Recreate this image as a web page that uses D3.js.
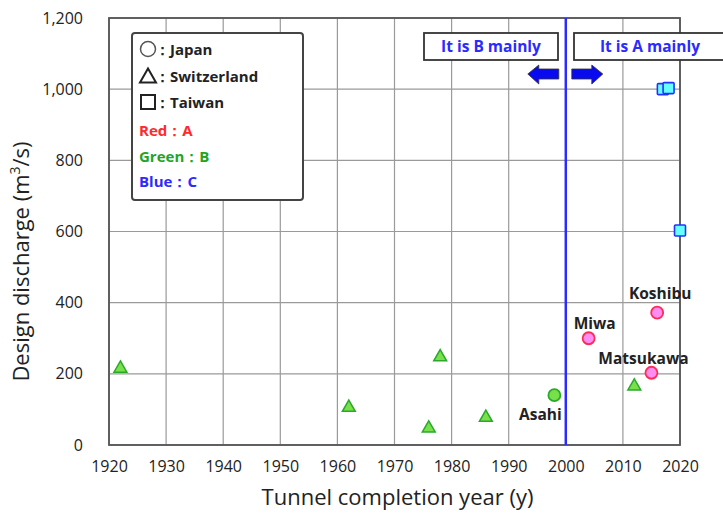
<!DOCTYPE html>
<html>
<head>
<meta charset="utf-8">
<script src="https://cdn.jsdelivr.net/npm/d3@7"></script>
<style>
  html, body { margin: 0; padding: 0; background: #fff; }
  svg { display: block; }
  text { font-family: "Open Sans", "Lato", sans-serif; }
</style>
</head>
<body>
<svg id="chart" width="723" height="517"></svg>
<script>
// Tunnel projects: completion year vs design discharge
const swissYears = [1922, 1962, 1976, 1978, 1986, 2012];
const swissFlows = [218, 108, 50, 250, 80, 168];
const swissGroups = ["B", "B", "B", "B", "B", "B"];

const japanNames = ["Asahi", "Miwa", "Matsukawa", "Koshibu"];
const japanYears = [1998, 2004, 2015, 2016];
const japanFlows = [140, 300, 203, 372];
const japanGroups = ["B", "A", "A", "A"];

const taiwanYears = [2017, 2018, 2020];
const taiwanFlows = [1000, 1003, 603];
const taiwanGroups = ["C", "C", "C"];

const xTicks = [1920, 1930, 1940, 1950, 1960, 1970, 1980, 1990, 2000, 2010, 2020];
const yTicks = [0, 200, 400, 600, 800, 1000, 1200];
const dividerYear = [2000];

const fills = { A: "#ff8cf0", B: "#77e04a", C: "#66ffff" };
const strokes = { A: "#ff2a55", B: "#2aa92a", C: "#2233ff" };

const svg = d3.select("#chart");
const m = { left: 109, right: 43, top: 18, bottom: 72 };
const W = 723, H = 517;

const x = d3.scaleLinear().domain([1920, 2020]).range([m.left, W - m.right]);
const y = d3.scaleLinear().domain([0, 1200]).range([H - m.bottom, m.top]);

// grid
const grid = svg.append("g");
grid.selectAll("line.gx").data(xTicks).join("line")
  .attr("x1", d => x(d)).attr("x2", d => x(d))
  .attr("y1", y(0)).attr("y2", y(1200))
  .attr("stroke", "#9a9a9a").attr("stroke-width", 1.2);
grid.selectAll("line.gy").data(yTicks).join("line")
  .attr("x1", x(1920)).attr("x2", x(2020))
  .attr("y1", d => y(d)).attr("y2", d => y(d))
  .attr("stroke", "#9a9a9a").attr("stroke-width", 1.2);

// plot frame
svg.append("rect")
  .attr("x", x(1920)).attr("y", y(1200))
  .attr("width", x(2020) - x(1920)).attr("height", y(0) - y(1200))
  .attr("fill", "none").attr("stroke", "#555").attr("stroke-width", 1.8);

// axes
const xAxis = svg.append("g").attr("transform", `translate(0,${y(0)})`)
  .call(d3.axisBottom(x).tickValues(xTicks).tickFormat(d3.format("d")).tickSize(0).tickPadding(16));
const yAxis = svg.append("g").attr("transform", `translate(${x(1920)},0)`)
  .call(d3.axisLeft(y).tickValues(yTicks).tickFormat(d3.format(",")).tickSize(0).tickPadding(26));
[xAxis, yAxis].forEach(a => {
  a.select(".domain").remove();
  a.selectAll("text").attr("font-size", 16).attr("fill", "#222")
    .style("font-family", "'Open Sans', sans-serif");
});

// axis titles
svg.append("text")
  .attr("x", (x(1920) + x(2020)) / 2 + 3).attr("y", 505)
  .attr("text-anchor", "middle").attr("font-size", 22).attr("fill", "#222")
  .text("Tunnel completion year (y)");
const yt = svg.append("text")
  .attr("transform", `translate(29,${(y(0) + y(1200)) / 2 + 30}) rotate(-90)`)
  .attr("text-anchor", "middle").attr("font-size", 22).attr("fill", "#222");
yt.append("tspan").text("Design discharge (m");
yt.append("tspan").attr("font-size", 14).attr("dy", -9).text("3");
yt.append("tspan").attr("dy", 9).text("/s)");

// divider line at 2000
svg.selectAll("line.div").data(dividerYear).join("line")
  .attr("x1", d => x(d)).attr("x2", d => x(d))
  .attr("y1", y(1200)).attr("y2", y(0))
  .attr("stroke", "#2b2bff").attr("stroke-width", 2.5);

// annotation boxes
function noteBox(x0, w, label, cx) {
  svg.append("rect").attr("x", x0).attr("y", 33).attr("width", w).attr("height", 27)
    .attr("fill", "#fff").attr("stroke", "#333").attr("stroke-width", 1.8);
  svg.append("text").attr("x", cx).attr("y", 52)
    .attr("text-anchor", "middle").attr("font-size", 15.5).attr("font-weight", "bold")
    .attr("fill", "#2b2bff").text(label);
}
noteBox(424, 134, "It is B mainly", 491);
noteBox(574, 152, "It is A mainly", 650);

// arrows
const xd = x(2000);
svg.append("path")
  .attr("d", `M${xd - 7},69 H${xd - 27} V65 L${xd - 38},74 L${xd - 27},84 V79 H${xd - 7} Z`)
  .attr("fill", "#0a0aee").attr("stroke", "#333").attr("stroke-width", 0.8);
svg.append("path")
  .attr("d", `M${xd + 6},69 H${xd + 26} V65 L${xd + 37},74 L${xd + 26},84 V79 H${xd + 6} Z`)
  .attr("fill", "#0a0aee").attr("stroke", "#333").attr("stroke-width", 0.8);

// Switzerland: triangles
const tri = d3.symbol().type(d3.symbolTriangle).size(72);
svg.append("g").selectAll("path").data(swissYears.map((v, i) => i)).join("path")
  .attr("transform", i => `translate(${x(swissYears[i])},${y(swissFlows[i]) + 1})`)
  .attr("d", tri)
  .attr("fill", i => fills[swissGroups[i]])
  .attr("stroke", i => strokes[swissGroups[i]]).attr("stroke-width", 1.5);

// Taiwan: squares
svg.append("g").selectAll("rect").data(taiwanYears.map((v, i) => i)).join("rect")
  .attr("x", i => x(taiwanYears[i]) - 5.5).attr("y", i => y(taiwanFlows[i]) - 5.5)
  .attr("width", 11).attr("height", 11).attr("rx", 1)
  .attr("fill", i => fills[taiwanGroups[i]])
  .attr("stroke", i => strokes[taiwanGroups[i]]).attr("stroke-width", 1.6);

// Japan: circles with names
svg.append("g").selectAll("circle").data(japanYears.map((v, i) => i)).join("circle")
  .attr("cx", i => x(japanYears[i])).attr("cy", i => y(japanFlows[i]))
  .attr("r", 6)
  .attr("fill", i => fills[japanGroups[i]])
  .attr("stroke", i => strokes[japanGroups[i]]).attr("stroke-width", 1.8);

const labelOffsets = { Asahi: [-14, 25], Miwa: [6, -9], Matsukawa: [-8, -9], Koshibu: [3, -14] };
svg.append("g").selectAll("text").data(japanNames.map((v, i) => i)).join("text")
  .attr("x", i => x(japanYears[i]) + labelOffsets[japanNames[i]][0])
  .attr("y", i => y(japanFlows[i]) + labelOffsets[japanNames[i]][1])
  .attr("text-anchor", "middle").attr("font-size", 15.5).attr("font-weight", "bold")
  .attr("fill", "#222").text(i => japanNames[i]);

// legend
const lg = svg.append("g");
lg.append("rect").attr("x", 132).attr("y", 33).attr("width", 171).attr("height", 167)
  .attr("rx", 3).attr("fill", "#fff").attr("stroke", "#444").attr("stroke-width", 2);
const legendShapes = [
  { kind: "circle", label: "：Japan" },
  { kind: "triangle", label: "：Switzerland" },
  { kind: "square", label: "：Taiwan" }
];
legendShapes.forEach((d, i) => {
  const cy = 49 + i * 26.5, cx = 148;
  if (d.kind === "circle") {
    lg.append("circle").attr("cx", cx).attr("cy", cy).attr("r", 7.5)
      .attr("fill", "none").attr("stroke", "#555").attr("stroke-width", 1.5);
  } else if (d.kind === "triangle") {
    lg.append("path").attr("d", `M${cx},${cy - 7} L${cx + 8},${cy + 7} L${cx - 8},${cy + 7} Z`)
      .attr("fill", "none").attr("stroke", "#222").attr("stroke-width", 2);
  } else {
    lg.append("rect").attr("x", cx - 7).attr("y", cy - 7).attr("width", 14).attr("height", 14)
      .attr("fill", "none").attr("stroke", "#222").attr("stroke-width", 2);
  }
  lg.append("text").attr("x", cx + 7).attr("y", cy + 6)
    .attr("font-size", 15).attr("font-weight", "bold").attr("fill", "#222").text(d.label);
});
const legendColours = [
  { label: "Red：A", colour: "#ff2a2a" },
  { label: "Green：B", colour: "#22a522" },
  { label: "Blue：C", colour: "#2b2bff" }
];
legendColours.forEach((d, i) => {
  lg.append("text").attr("x", 139).attr("y", 136 + i * 25.5)
    .attr("font-size", 15).attr("font-weight", "bold").attr("fill", d.colour).text(d.label);
});
</script>
</body>
</html>
